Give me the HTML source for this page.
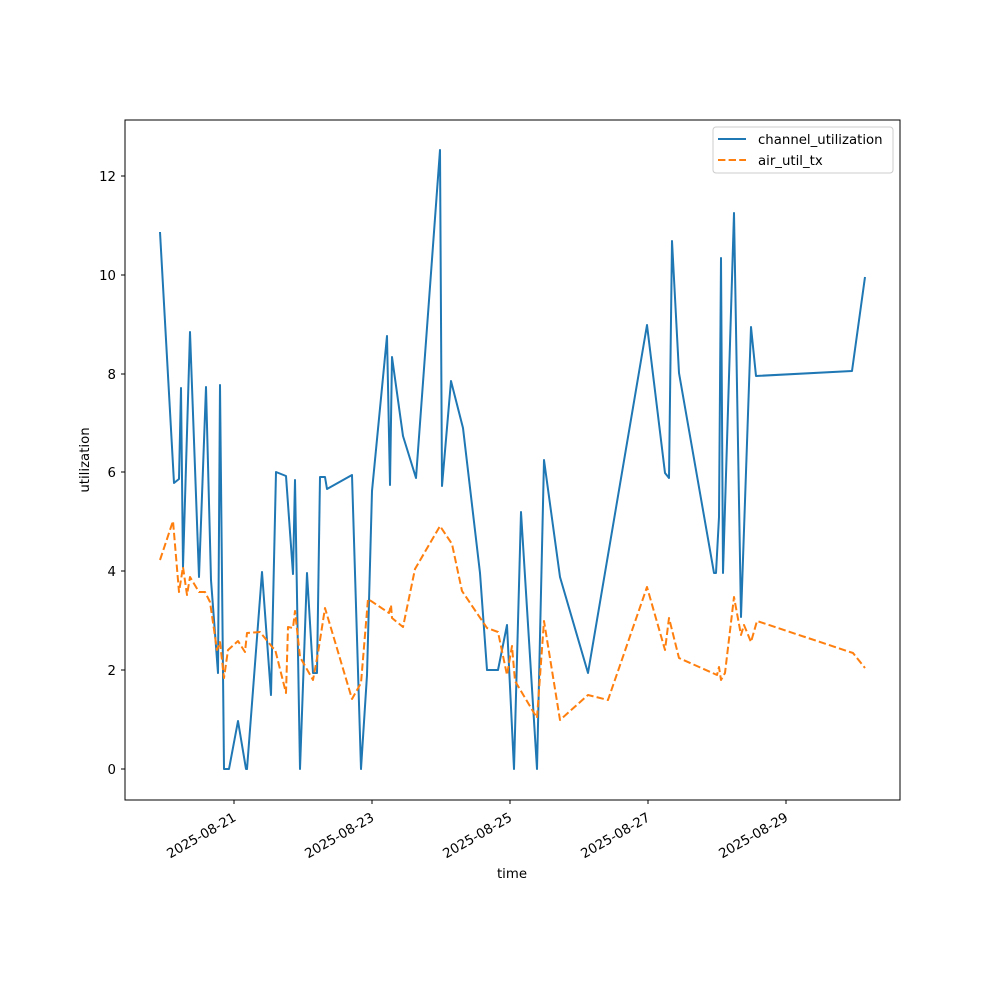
<!DOCTYPE html>
<html><head><meta charset="utf-8"><style>body{margin:0;background:#fff}</style></head>
<body>
<svg width="1000" height="1000" xmlns="http://www.w3.org/2000/svg" font-family="DejaVu Sans, Liberation Sans, sans-serif" font-size="13.3">
<rect width="1000" height="1000" fill="#fff"/>
<defs><clipPath id="c"><rect x="125" y="120" width="775" height="680"/></clipPath></defs>
<g clip-path="url(#c)" fill="none" stroke-width="2" stroke-linejoin="round">
<polyline stroke="#1f77b4" points="160,232 174,483 179,479 181,388 183,567 190,332 199,577 206,387 211,580 218,673 220,385 224,769 229,769 238,721 246,769 247,769 262,572 271,695 276,472 286,476 293,574 295,480 300,769 307,573 313,673 317,673 320,477 325,477 327,489 352,475 361,769 367,675 372,491 387,336 390,485 392,357 403,436 416,478 440,150 442,486 451,381 463,428 480,573 487,670 498,670 507,625 514,769 521,512 537,769 544,460 560,577 588,673 647,325 665,473 669,478 672,241 679,373 714,573 716,573 719,517 721,258 723,573 734,213 741,617 751,327 756,376 852,371 865,277"/>
<polyline stroke="#ff7f0e" stroke-dasharray="7.4,3.2" points="160,560 173,521 179,592 183,567 187,595 190,577 199,592 205,592 210,602 217,650 220,642 224,678 228,650 238,641 245,652 247,633 260,632 273,648 275,649 286,693 288,627 293,628 295,611 300,657 313,680 318,653 325,608 352,699 361,683 368,599 389,613 391,605 392,618 403,627 415,569 440,526 452,544 462,591 487,628 498,632 507,675 512,646 515,681 537,718 544,621 560,720 588,695 608,700 647,587 665,650 669,618 679,658 717,675 719,667 721,680 725,673 734,597 741,635 744,625 751,642 757,621 853,653 865,668"/>
</g>
<rect x="125" y="120" width="775" height="680" fill="none" stroke="#000" stroke-width="1"/>
<g stroke="#000" stroke-width="1">
<line x1="121" y1="769" x2="125" y2="769"/><line x1="121" y1="670" x2="125" y2="670"/><line x1="121" y1="571" x2="125" y2="571"/><line x1="121" y1="472" x2="125" y2="472"/><line x1="121" y1="374" x2="125" y2="374"/><line x1="121" y1="275" x2="125" y2="275"/><line x1="121" y1="176" x2="125" y2="176"/>
<line x1="234" y1="800" x2="234" y2="804"/><line x1="372" y1="800" x2="372" y2="804"/><line x1="510" y1="800" x2="510" y2="804"/><line x1="648" y1="800" x2="648" y2="804"/><line x1="786" y1="800" x2="786" y2="804"/>
</g>
<g text-anchor="end">
<text x="116" y="774">0</text><text x="116" y="675">2</text><text x="116" y="576">4</text><text x="116" y="477">6</text><text x="116" y="379">8</text><text x="116" y="280">10</text><text x="116" y="181">12</text>
<text transform="translate(237,820) rotate(-30)">2025-08-21</text>
<text transform="translate(375,820) rotate(-30)">2025-08-23</text>
<text transform="translate(513,820) rotate(-30)">2025-08-25</text>
<text transform="translate(651,820) rotate(-30)">2025-08-27</text>
<text transform="translate(789,820) rotate(-30)">2025-08-29</text>
</g>
<text x="512" y="878" text-anchor="middle">time</text>
<text transform="translate(89,460) rotate(-90)" text-anchor="middle">utilization</text>
<rect x="713" y="127" width="180" height="46" rx="3" fill="#fff" stroke="#ccc"/>
<line x1="718" y1="139" x2="746" y2="139" stroke="#1f77b4" stroke-width="2"/>
<line x1="718" y1="160" x2="746" y2="160" stroke="#ff7f0e" stroke-width="2" stroke-dasharray="7.4,3.2"/>
<text x="758" y="144">channel_utilization</text>
<text x="758" y="165">air_util_tx</text>
</svg>
</body></html>
